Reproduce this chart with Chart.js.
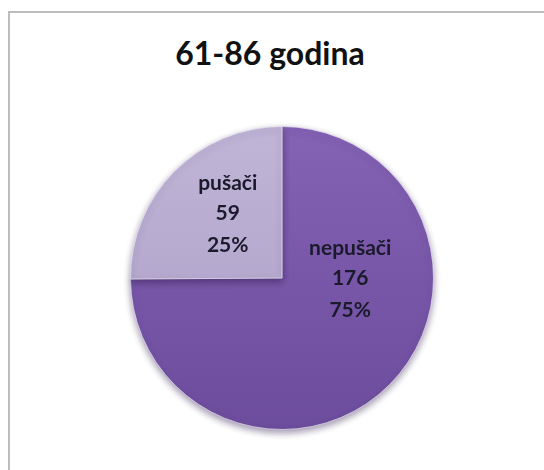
<!DOCTYPE html>
<html>
<head>
<meta charset="utf-8">
<script src="https://cdn.jsdelivr.net/npm/chart.js@4"></script>
<style>
  html, body { margin: 0; padding: 0; background: #fff; overflow: hidden; }
  #wrap { position: relative; width: 544px; height: 470px; }
  #frame { position: absolute; left: 8px; top: 11px; width: 600px; height: 600px;
           border-left: 2px solid #bcbcbc; border-top: 2px solid #bcbcbc; }
  #title { position: absolute; left: 0; width: 540px; top: 33px; text-align: center;
           font: bold 32px Lato, sans-serif; color: #111; }
  canvas { position: absolute; left: 0; top: 0; }
</style>
</head>
<body>
<div id="wrap">
  <div id="frame"></div>
  <div id="title">61-86 godina</div>
  <canvas id="pie" width="544" height="470"></canvas>
</div>
<script>
// data
var labels = ["nepušači", "pušači"];
var counts = [176, 59];
var percents = ["75%", "25%"];

function sliceFill(ctx) {
    var chart = ctx.chart;
    var area = chart.chartArea;
    if (!area) return "#7b5aa8";
    var g = chart.ctx.createLinearGradient(area.left, area.top, area.left, area.bottom);
    if (ctx.dataIndex === 0) {
        g.addColorStop(0, "#8462b4");
        g.addColorStop(1, "#6c4c9c");
    } else {
        g.addColorStop(0, "#c0b5d6");
        g.addColorStop(1, "#aa9cc6");
    }
    return g;
}

// text inside slices, placed like the excel labels
var sliceText = {
    id: "sliceText",
    afterDatasetsDraw(chart) {
        var c = chart.ctx;
        var arcs = chart.getDatasetMeta(0).data;
        var spots = [{ f: 1 / 3, r: 0.45 }, { f: 0.56, r: 0.56 }];
        c.save();
        c.font = "bold 21px Lato, sans-serif";
        c.fillStyle = "#1b1a2c";
        c.textAlign = "center";
        c.textBaseline = "middle";
        arcs.forEach(function (arc, i) {
            var p = arc.getProps(["x", "y", "startAngle", "endAngle", "outerRadius"], true);
            var a = p.startAngle + (p.endAngle - p.startAngle) * spots[i].f;
            var x = p.x + Math.cos(a) * p.outerRadius * spots[i].r;
            var y = p.y + Math.sin(a) * p.outerRadius * spots[i].r;
            c.fillText(labels[i], x, y - 30);
            c.fillText(String(counts[i]), x, y);
            c.fillText(percents[i], x, y + 32);
        });
        c.restore();
    }
};

var pieShadow = {
    id: "pieShadow",
    beforeDatasetsDraw(chart) {
        var c = chart.ctx;
        c.save();
        c.shadowColor = "rgba(40,20,70,0.45)";
        c.shadowBlur = 7;
        c.shadowOffsetY = 3;
    },
    afterDatasetsDraw(chart) {
        chart.ctx.restore();
    }
};

var chart = new Chart(document.getElementById("pie"), {
    type: "pie",
    data: {
        labels: labels,
        datasets: [{
            data: counts,
            backgroundColor: sliceFill,
            borderColor: "rgba(230,225,240,0.7)",
            borderWidth: 1
        }]
    },
    options: {
        responsive: false,
        animation: false,
        layout: {
            padding: { top: 126, bottom: 40, left: 130, right: 110 }
        },
        plugins: {
            legend: { display: false },
            tooltip: { enabled: false },
            title: { display: false }
        }
    },
    plugins: [pieShadow, sliceText]
});
</script>
</body>
</html>
